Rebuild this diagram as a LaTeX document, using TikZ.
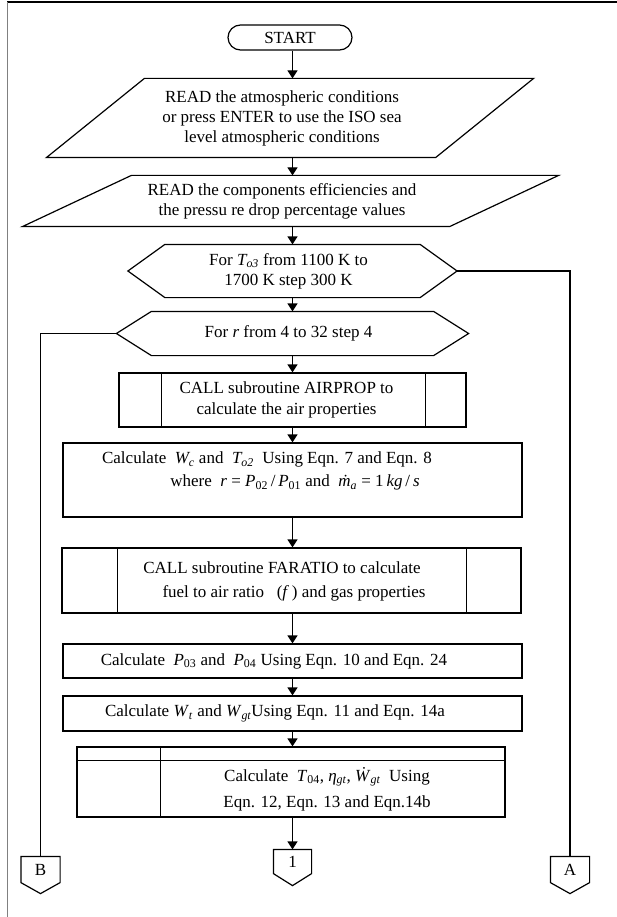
\documentclass[tikz,border=0pt]{standalone}
\usepackage{fontspec}
\setmainfont{Liberation Serif}
\usetikzlibrary{arrows.meta}

% letter with dot above: code point, fallback raise, fallback letter
\newcommand{\dotchar}[3]{\iffontchar\font"#1\relax\symbol{"#1}\else
  \ooalign{#3\cr\hidewidth\raisebox{#2}{\kern0.15em.}\hidewidth\cr}\fi}

\tikzset{
  terminal/.style={draw, rounded corners=12.5pt, minimum width=124pt, minimum height=25pt, inner sep=0pt},
  shapetext/.style={inner sep=0pt, align=center},
  process/.style={draw, minimum width=459pt, inner sep=0pt},
  offpage/.style={minimum width=38pt, minimum height=25pt, inner sep=0pt},
}

\begin{document}
\begin{tikzpicture}[x=1pt, y=-1pt, >={Triangle[length=8pt,width=10pt]}, line width=1.2pt,
    font=\fontsize{17}{20}\selectfont]
  \useasboundingbox (0,0) rectangle (617,917);

  % page frame
  \draw (7,2) -- (617,2);
  \draw[gray, line width=1.5pt] (7.5,2) -- (7.5,917);

  % 1. Start and input blocks
  \node[terminal] (start) at (290,37.5) {START};

  \node[shapetext, minimum width=388pt, minimum height=78pt] (read1) at (282,118)
    {READ the atmospheric conditions\\or press ENTER to use the ISO sea\\ level atmospheric conditions};
  \draw ([xshift=-41pt]read1.south west) -- ([xshift=-41pt]read1.south east)
    -- ([xshift=57pt]read1.north east) -- ([xshift=57pt]read1.north west) -- cycle;

  \node[shapetext, minimum width=426pt, minimum height=50pt] (read2) at (282,201)
    {READ the components efficiencies and\\the pressu re drop percentage values};
  \draw ([xshift=-46pt]read2.south west) -- ([xshift=-46pt]read2.south east)
    -- ([xshift=63pt]read2.north east) -- ([xshift=63pt]read2.north west) -- cycle;

  % 2. Loops
  \node[shapetext, minimum width=254pt, minimum height=52pt] (loopT) at (292.5,271)
    {\hspace*{-8pt}For \textit{T\textsubscript{o3}} from 1100 K to\\\hspace*{-8pt}1700 K step 300 K};
  \coordinate (loopTtip) at ([xshift=37pt]loopT.east);
  \draw (loopT.north west) -- (loopT.north east) -- (loopTtip)
    -- (loopT.south east) -- (loopT.south west) -- ([xshift=-37pt]loopT.west) -- cycle;

  \node[shapetext, minimum width=281pt, minimum height=43pt] (loopR) at (292.5,333.5)
    {\hspace*{-8pt}For \textit{r} from 4 to 32 step 4};
  \coordinate (loopRtip) at ([xshift=-35pt]loopR.west);
  \draw (loopR.north west) -- (loopR.north east) -- ([xshift=35pt]loopR.east)
    -- (loopR.south east) -- (loopR.south west) -- (loopRtip) -- cycle;

  % 3. Subroutine AIRPROP
  \node[process, align=center, minimum width=347pt, minimum height=54pt] (airprop) at (292.5,400)
    {\hspace*{-12pt}CALL subroutine AIRPROP to\\[1pt]\hspace*{-12pt}calculate the air properties};
  \draw ([xshift=43pt]airprop.north west) -- ([xshift=43pt]airprop.south west);
  \draw ([xshift=-41pt]airprop.north east) -- ([xshift=-41pt]airprop.south east);

  % 4. Compressor
  \node[process, minimum height=74pt] (comp) at (292.5,480) {};
  \node[shapetext] (compA) at (267,459.5)
    {Calculate~ \textit{W\textsubscript{c}} and~ \textit{T\textsubscript{o2}}~ Using Eqn. 7 and Eqn. 8};
  \node[shapetext] (compB) at (295,482.5)
    {where~ \textit{r} = \textit{P}\textsubscript{02}\,/\,\textit{P}\textsubscript{01} and~
     \textit{\dotchar{1E41}{0.5em}{m}}\textsubscript{\textit{a}} = 1\,\textit{kg}\,/\,\textit{s}};

  % 5. Subroutine FARATIO
  \node[process, minimum height=65pt] (faratio) at (291.5,580.5) {};
  \draw ([xshift=56pt]faratio.north west) -- ([xshift=56pt]faratio.south west);
  \draw ([xshift=-55pt]faratio.north east) -- ([xshift=-55pt]faratio.south east);
  \node[shapetext] (faratioA) at (282,568) {CALL subroutine FARATIO to calculate};
  \node[shapetext] (faratioB) at (294,593) {fuel to air ratio~~ (\textit{f}\,) and gas properties};

  % 6. Pressures, works
  \node[process, minimum height=34pt] (press) at (292.5,661)
    {Calculate~ \textit{P}\textsubscript{03} and~ \textit{P}\textsubscript{04} Using Eqn. 10 and Eqn. 24\hspace*{37pt}};
  \node[process, minimum height=35pt] (turb) at (292.5,713.5)
    {Calculate \textit{W}\textsubscript{\textit{t}} and \textit{W}\textsubscript{\textit{gt}}Using Eqn. 11 and Eqn. 14a\hspace*{35pt}};

  % 7. Performance
  \node[process, minimum width=428pt, minimum height=70pt] (perf) at (291,782) {};
  \draw ([yshift=-14pt]perf.north west) -- ([yshift=-14pt]perf.north east);
  \draw ([xshift=84pt]perf.north west) -- ([xshift=84pt]perf.south west);
  \node[shapetext] (perftxt) at (327,789)
    {Calculate~ \textit{T}\textsubscript{04}, \textit{η}\textsubscript{\textit{gt}},
     \textit{\dotchar{1E86}{0.72em}{W}}\textsubscript{\textit{gt}}~ Using\\[6pt]Eqn. 12, Eqn. 13 and Eqn.14b};

  % 8. Off-page connectors
  \node[offpage, minimum width=37pt, minimum height=23pt] (con1) at (292.5,861.5) {1};
  \node[offpage] (conB) at (40.5,869.5) {B};
  \node[offpage] (conA) at (570,869.5) {A};
  \foreach \c/\t in {con1/12, conB/11, conA/11} {
    \draw (\c.north west) -- (\c.north east) -- (\c.south east)
      -- ([yshift=-\t pt]\c.south) -- (\c.south west) -- cycle;
  }

  % flow arrows
  \foreach \a/\b in {start/read1, read1/read2, read2/loopT, loopT/loopR, loopR/airprop,
      airprop/comp, comp/faratio, faratio/press, press/turb, turb/perf, perf/con1} {
    \draw[->] (\a.south -| loopT) -- (\b.north -| loopT);
  }

  % loop exits
  \draw (loopTtip) -| (conA.north);
  \draw (loopRtip) -| (conB.north);
\end{tikzpicture}
\end{document}
